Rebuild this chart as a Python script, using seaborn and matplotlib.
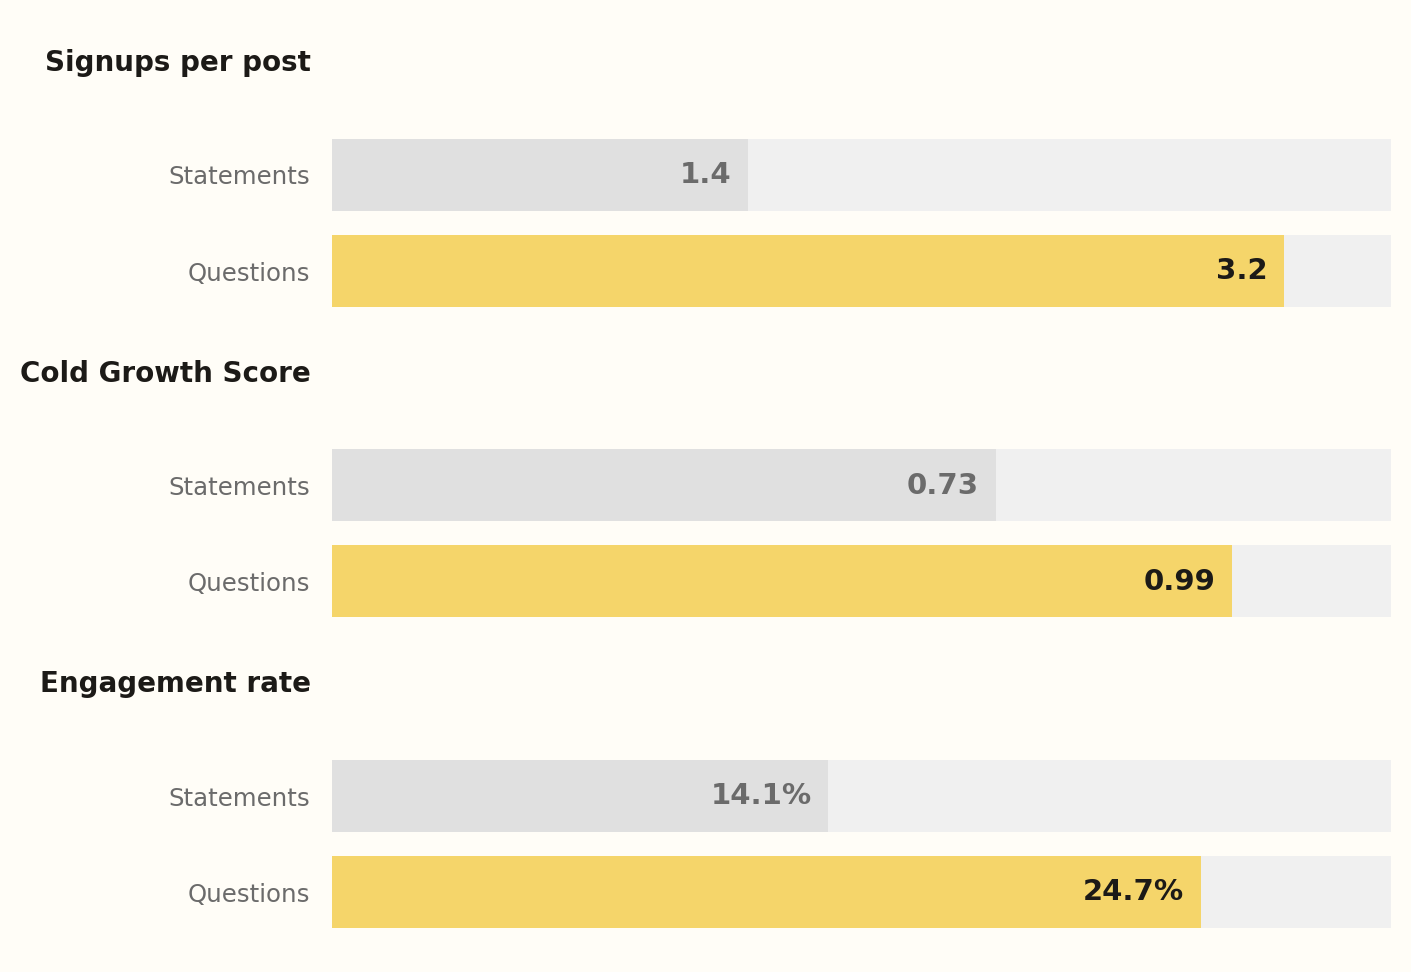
import matplotlib
matplotlib.use('Agg')
import matplotlib.pyplot as plt
import seaborn as sns
import pandas as pd

# data
metrics = ["Signups per post", "Cold Growth Score", "Engagement rate"]
categories = ["Statements", "Questions"]
statements = [1.4, 0.73, 14.1]
questions = [3.2, 0.99, 24.7]
scale_max = [3.56, 1.165, 30.1]
value_fmt = ["{:.1f}", "{:.2f}", "{:.1f}%"]

BG = "#fffdf7"
TRACK = "#f0f0f0"
BAR_COLORS = {"Statements": "#e0e0e0", "Questions": "#f5d56a"}
VAL_COLORS = {"Statements": "#6b6b6b", "Questions": "#1c1a17"}

sns.set_theme(style="white")
plt.rcParams['font.family'] = ['DejaVu Sans']

W, H = 1411, 972
fig = plt.figure(figsize=(W / 100, H / 100), dpi=100)
fig.patch.set_facecolor(BG)

left = 332 / W
width = 1059 / W
ax_h = 288

for i, metric in enumerate(metrics):
    top_px = 175 + 310.5 * i - 144
    ax = fig.add_axes([left, 1 - (top_px + ax_h) / H, width, ax_h / H])
    ax.set_facecolor(BG)

    vals = [statements[i], questions[i]]
    df = pd.DataFrame({"label": categories,
                       "frac": [v / scale_max[i] for v in vals],
                       "track": [1.0, 1.0]})

    # background track, then the value bars
    sns.barplot(data=df, y="label", x="track", color=TRACK, width=0.75,
                order=categories, ax=ax, saturation=1, linewidth=0)
    sns.barplot(data=df, y="label", x="frac", hue="label", palette=BAR_COLORS,
                width=0.75, order=categories, ax=ax, legend=False, saturation=1,
                linewidth=0)

    ax.set_xlim(0, 1)
    ax.set_ylim(1.5, -1.5)
    ax.set_xlabel("")
    ax.set_ylabel("")
    ax.set_xticks([])
    ax.tick_params(axis='y', length=0, pad=15.5, labelsize=17.6, labelcolor="#6b6b6b")
    for s in ax.spines.values():
        s.set_visible(False)

    for j, cat in enumerate(categories):
        ax.annotate(value_fmt[i].format(vals[j]), xy=(df["frac"][j], j),
                    xytext=(-12, 0), textcoords="offset points",
                    ha="right", va="center", fontsize=21, fontweight="bold",
                    color=VAL_COLORS[cat])

    # group heading
    ax.annotate(metric, xy=(0, (71 - 175) / 96), xycoords=("axes fraction", "data"),
                xytext=(-15, 0), textcoords="offset points",
                ha="right", va="baseline", fontsize=20, fontweight="bold",
                color="#1c1a17")

fig.savefig("out.png", dpi=100, facecolor=BG)
